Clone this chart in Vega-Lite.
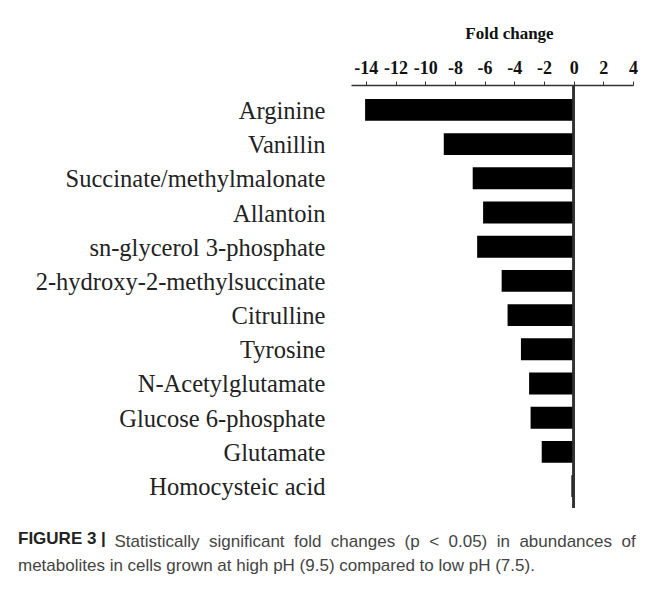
{
  "$schema": "https://vega.github.io/schema/vega-lite/v6.json",
  "width": 282,
  "height": 423,
  "autosize": {"type": "none"},
  "padding": {"left": 351, "top": 85, "right": 24, "bottom": 96},
  "background": "white",
  "config": {"view": {"stroke": null}},
  "title": {
    "text": "FIGURE 3 |",
    "subtitle": "metabolites in cells grown at high pH (9.5) compared to low pH (7.5).",
    "orient": "bottom",
    "anchor": "start",
    "frame": "group",
    "dx": -333,
    "offset": -18,
    "font": "Liberation Sans",
    "fontSize": 17,
    "fontWeight": "bold",
    "color": "#222222",
    "subtitleFont": "Liberation Sans",
    "subtitleFontSize": 17,
    "subtitleFontWeight": "normal",
    "subtitleColor": "#444444",
    "subtitlePadding": 10
  },
  "data": {
    "values": [
      {"metabolite": "Arginine", "fold_change": -14.05},
      {"metabolite": "Vanillin", "fold_change": -8.75},
      {"metabolite": "Succinate/methylmalonate", "fold_change": -6.8},
      {"metabolite": "Allantoin", "fold_change": -6.1},
      {"metabolite": "sn-glycerol 3-phosphate", "fold_change": -6.5},
      {"metabolite": "2-hydroxy-2-methylsuccinate", "fold_change": -4.85},
      {"metabolite": "Citrulline", "fold_change": -4.45},
      {"metabolite": "Tyrosine", "fold_change": -3.55},
      {"metabolite": "N-Acetylglutamate", "fold_change": -3.0},
      {"metabolite": "Glucose 6-phosphate", "fold_change": -2.9},
      {"metabolite": "Glutamate", "fold_change": -2.15},
      {"metabolite": "Homocysteic acid", "fold_change": -0.15}
    ]
  },
  "resolve": {"axis": {"x": "independent"}},
  "layer": [
    {
      "mark": {"type": "bar", "color": "#000000"},
      "encoding": {
        "y": {
          "field": "metabolite",
          "type": "nominal",
          "sort": null,
          "scale": {"paddingInner": 0.36, "paddingOuter": 0.365, "align": 0.56},
          "axis": {
            "orient": "left",
            "title": null,
            "domain": false,
            "ticks": false,
            "labelPadding": 26,
            "labelOffset": 2,
            "labelFont": "Liberation Serif",
            "labelFontSize": 24.5,
            "labelColor": "#222222",
            "labelLimit": 0
          }
        },
        "x": {
          "field": "fold_change",
          "type": "quantitative",
          "scale": {"domain": [-15, 4], "nice": false, "zero": false},
          "axis": {
            "orient": "top",
            "values": [-14, -12, -10, -8, -6, -4, -2, 0, 2, 4],
            "labelExpr": "datum.value < 0 ? '-' + abs(datum.value) : '' + datum.value",
            "grid": false,
            "labelFont": "Liberation Serif",
            "labelFontSize": 18,
            "labelFontWeight": "bold",
            "labelColor": "#111111",
            "labelFlush": false,
            "labelOverlap": false,
            "labelPadding": 4,
            "tickSize": 4,
            "tickColor": "#333333",
            "domainColor": "#333333",
            "domainWidth": 1.5,
            "title": "Fold change",
            "titleFont": "Liberation Serif",
            "titleFontSize": 17,
            "titleFontWeight": "bold",
            "titleColor": "#111111",
            "titleX": 158,
            "titleY": -47,
            "titleAlign": "center",
            "titleBaseline": "alphabetic"
          }
        }
      }
    },
    {
      "mark": {"type": "rule", "color": "#333333", "strokeWidth": 1.6},
      "encoding": {
        "x": {
          "datum": 0,
          "type": "quantitative",
          "axis": {
            "orient": "bottom",
            "labels": false,
            "ticks": false,
            "domain": false,
            "grid": false,
            "title": "Statistically \u00a0significant \u00a0fold \u00a0changes \u00a0(p \u00a0< \u00a00.05) \u00a0in \u00a0abundances \u00a0of",
            "titleFont": "Liberation Sans",
            "titleFontSize": 17,
            "titleFontWeight": "normal",
            "titleColor": "#444444",
            "titleX": -237,
            "titleY": 38,
            "titleAlign": "left",
            "titleBaseline": "alphabetic"
          }
        }
      }
    }
  ]
}
